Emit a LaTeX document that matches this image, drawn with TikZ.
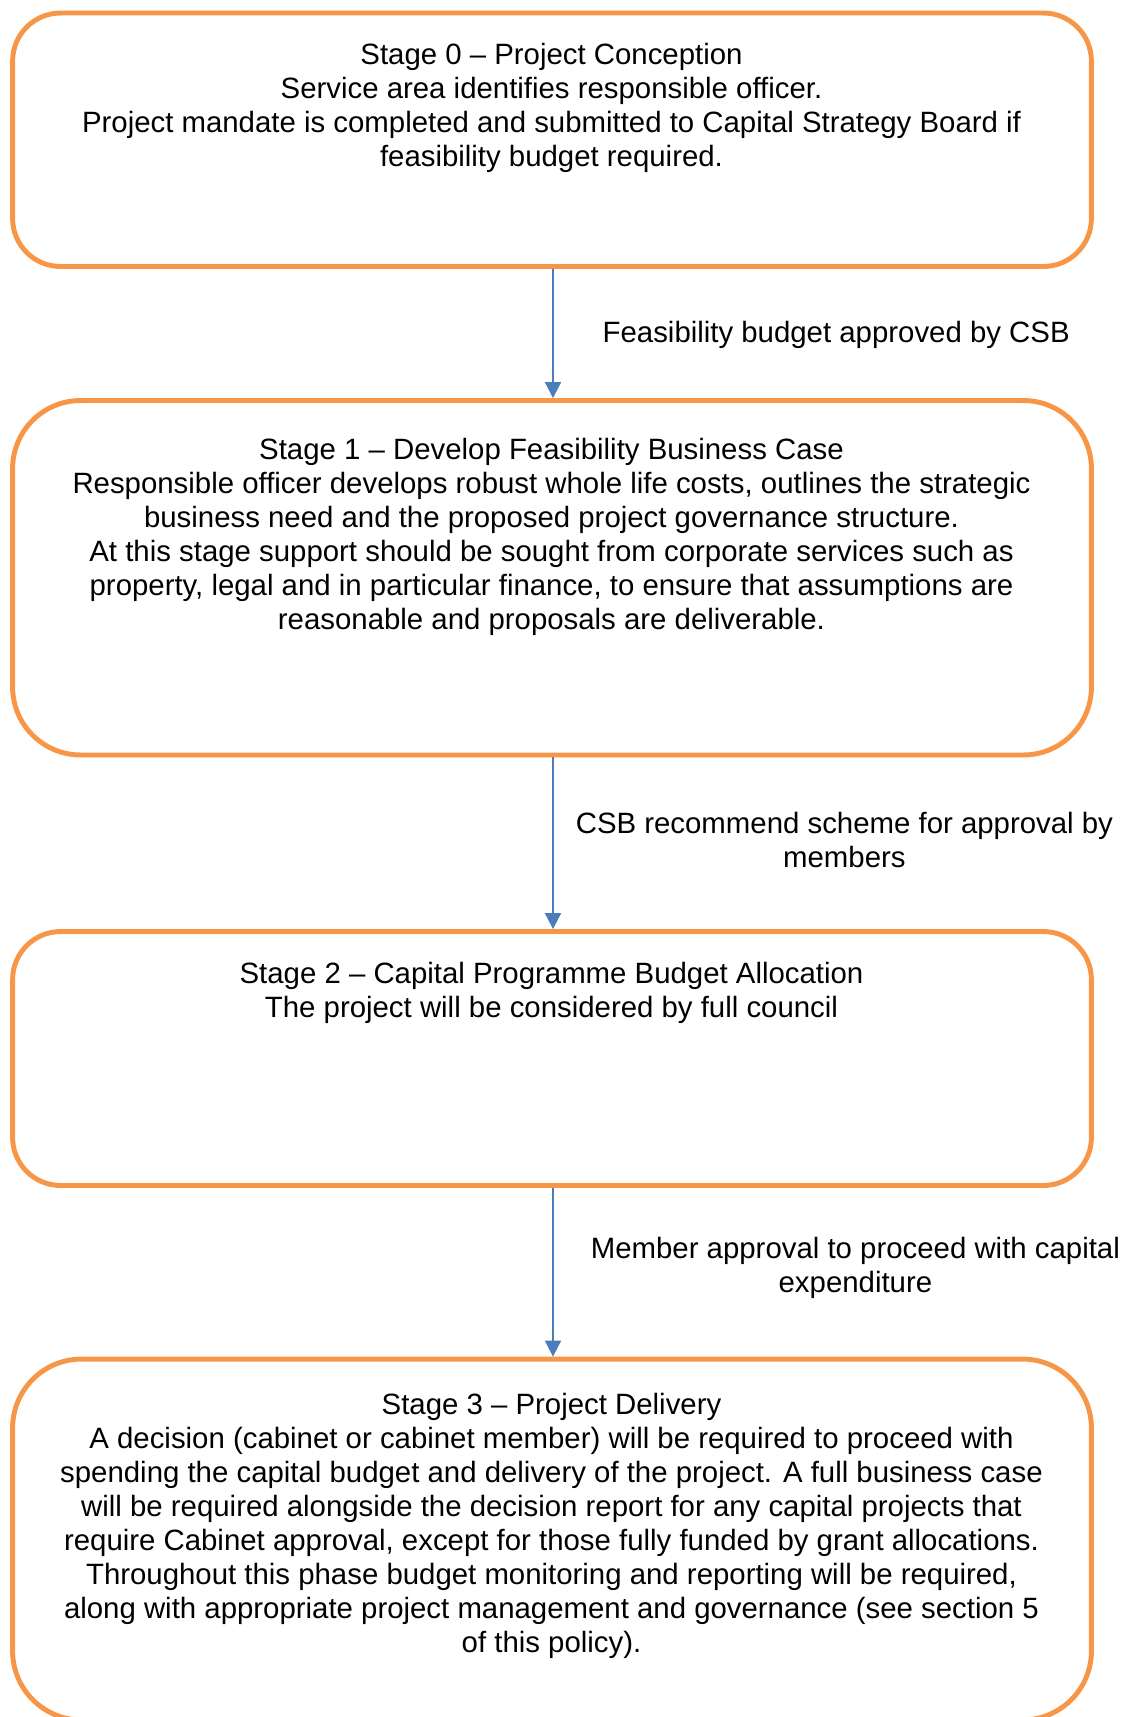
\documentclass[tikz,border=0pt]{standalone}
\usepackage{fontspec}
\setmainfont{Liberation Sans}
\usetikzlibrary{arrows.meta}
\definecolor{stageorange}{HTML}{F79646}
\definecolor{flowblue}{HTML}{4A7EBB}

\begin{document}
\begin{tikzpicture}[x=0.02cm,y=-0.02cm,
  font=\fontsize{16.72}{19.35}\selectfont,
  stagebox/.style={draw=stageorange,line width=2.8pt,minimum width=21.58cm,inner sep=0pt},
  stagetext/.style={anchor=north,align=center,inner sep=0pt},
  flowlabel/.style={anchor=north,align=center,inner sep=0pt},
  flowarrow/.style={flowblue,line width=1.1pt,-{Triangle[length=0.32cm,width=0.32cm]}}]
\useasboundingbox (0,0) rectangle (1123,1717);
% stage boxes
\node[stagebox,rounded corners=0.96cm,minimum height=5.07cm] (stage0) at (552,139.75) {};
\node[stagebox,rounded corners=1.36cm,minimum height=7.09cm] (stage1) at (552,577.75) {};
\node[stagebox,rounded corners=0.96cm,minimum height=5.08cm] (stage2) at (552,1058.5) {};
\node[stagebox,rounded corners=1.38cm,minimum height=7.22cm] (stage3) at (552,1539.5) {};
% box texts
\node[stagetext] (stage0txt) at (551.5,42.6) {Stage 0 – Project Conception\\
Service area identifies responsible officer.\\
Project mandate is completed and submitted to Capital Strategy Board if\\
feasibility budget required.};
\node[stagetext] (stage1txt) at (551.5,437.7) {Stage 1 – Develop Feasibility Business Case\\
Responsible officer develops robust whole life costs, outlines the strategic\\
business need and the proposed project governance structure.\\
At this stage support should be sought from corporate services such as\\
property, legal and in particular finance, to ensure that assumptions are\\
reasonable and proposals are deliverable.};
\node[stagetext] (stage2txt) at (551.5,962) {Stage 2 – Capital Programme Budget Allocation\\
The project will be considered by full council};
\node[stagetext] (stage3txt) at (551.5,1393.3) {Stage 3 – Project Delivery\\
A decision (cabinet or cabinet member) will be required to proceed with\\
spending the capital budget and delivery of the project. A full business case\\
will be required alongside the decision report for any capital projects that\\
require Cabinet approval, except for those fully funded by grant allocations.\\
Throughout this phase budget monitoring and reporting will be required,\\
along with appropriate project management and governance (see section 5\\
of this policy).};
% connectors
\draw[flowarrow] ([xshift=0.02cm]stage0.south) -- ([xshift=0.02cm]stage1.north);
\draw[flowarrow] ([xshift=0.02cm]stage1.south) -- ([xshift=0.02cm]stage2.north);
\draw[flowarrow] ([xshift=0.02cm]stage2.south) -- ([xshift=0.02cm]stage3.north);
\node[flowlabel] (lbl01) at (836.2,320.6) {Feasibility budget approved by CSB};
\node[flowlabel] (lbl12) at (844.4,812) {CSB recommend scheme for approval by\\members};
\node[flowlabel] (lbl23) at (855.4,1236.7) {Member approval to proceed with capital\\expenditure};
\end{tikzpicture}
\end{document}
